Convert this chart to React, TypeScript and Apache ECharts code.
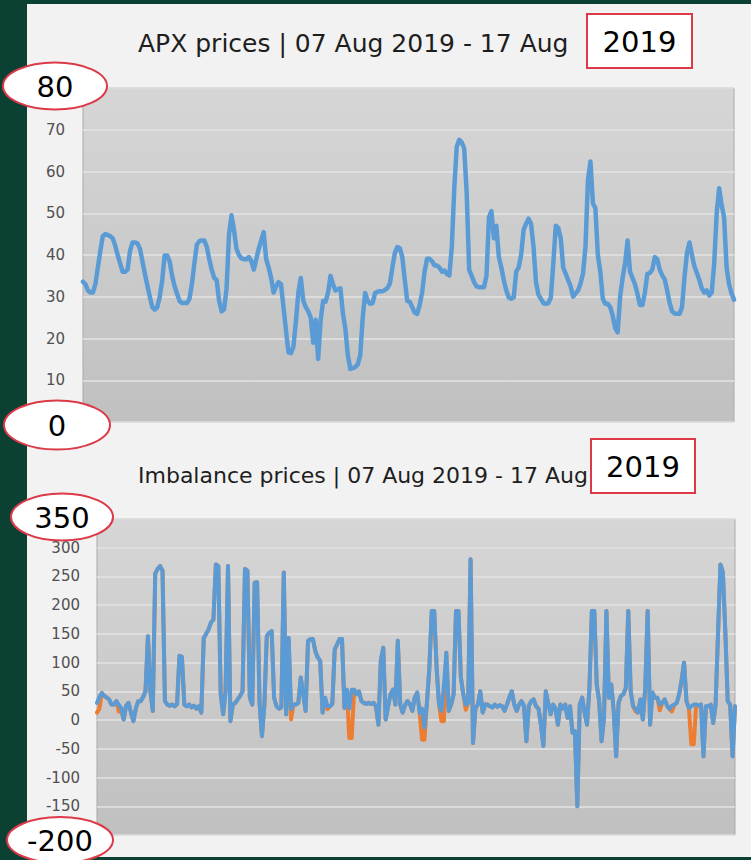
import React, { useEffect, useRef } from "react";
import * as echarts from "echarts";

// ---- Data (hourly, 07 Aug 2019 00:00 - 17 Aug 2019 23:00) ----
const days = ["07", "08", "09", "10", "11", "12", "13", "14", "15", "16", "17"];
const hours = Array.from({ length: 24 }, (_, h) => (h < 10 ? "0" + h : "" + h) + ":00");
const categories: string[] = [];
days.forEach((d) => hours.forEach((h) => categories.push(d + " Aug 2019 " + h)));

const apxPrices = [
  33.6, 33, 31.5, 31, 31, 33, 37, 41, 44.5, 45, 44.8, 44.5, 44, 42.3, 40, 38, 36, 36, 36.5, 41, 43, 43, 42.8, 41.5,
  38.5, 35.5, 32.7, 30, 27.5, 26.9, 27.5, 30, 34, 39.9, 39.9, 38.5, 35, 32.5, 30.7, 29, 28.5, 28.5, 28.5, 29.5, 33, 38, 42.5, 43.3,
  43.5, 43.5, 42, 39, 36.5, 34.5, 34, 29, 26.5, 27, 32, 45, 49.5, 46, 41.5, 40, 39.2, 39, 39, 39.5, 38.5, 36.5, 39, 41.5,
  43.5, 45.5, 39, 37, 34.5, 31, 32.5, 33.5, 33, 27.5, 22, 16.7, 16.5, 18, 24, 31, 34.5, 29, 27.5, 26.5, 25, 19, 24.5, 15.1,
  24.3, 29, 28.8, 31, 35, 33, 31.5, 31.8, 32, 26, 22.3, 16, 12.7, 12.9, 13.2, 13.8, 16, 25, 30.9, 29, 28.3, 28.5, 30.9, 31.2,
  31.3, 31.3, 31.6, 32.1, 33.2, 37, 40.5, 41.9, 41.6, 39.5, 34, 29, 28.8, 27.5, 26.2, 25.9, 28, 31, 36, 39.1, 39.1, 38.5, 37.5, 37.5,
  37, 36, 36.3, 35.5, 35.1, 42, 56, 66, 67.6, 67, 65.5, 55, 36.5, 35, 33.5, 32.5, 32.3, 32.3, 32.3, 35, 49, 50.5, 44, 47,
  39.5, 37, 34, 31.5, 29.8, 29.5, 29.8, 36, 37, 40, 46, 47.5, 48.7, 47.5, 42, 33.5, 30.5, 29.5, 28.5, 28.3, 28.5, 29.8, 38, 47,
  46.5, 44, 37, 35.5, 34, 32.5, 30, 30.8, 31.5, 33.2, 35.5, 42, 58, 62.4, 52.4, 51.2, 40, 35.9, 29.5, 28.3, 28.3, 27.5, 25.5, 22.5,
  21.5, 30, 34.5, 38, 43.5, 36, 34.5, 33, 30.7, 28, 28, 31, 35.5, 35.7, 36.5, 39.5, 39, 36.5, 35.1, 34.2, 31.5, 28.5, 26.5, 26,
  25.9, 25.9, 27.5, 34.7, 40.5, 43, 40, 37.3, 35.7, 34, 32, 31, 31.5, 30.3, 31, 38, 50, 56, 52, 49, 37.1, 33, 30.8, 29.3,
];

const imbalanceBlue = [
  30, 40, 47, 42, 39, 36, 27, 27, 33, 26, 21, 1, 25, 30, 13, -2, 20, 33, 33, 40, 50, 146, 50, 16,
  255, 263, 268, 260, 33, 27, 25, 27, 24, 28, 112, 110, 27, 24, 27, 22, 25, 20, 24, 13, 143, 150, 158, 170,
  175, 271, 268, 45, 10, 50, 268, -2, 27, 30, 36, 42, 50, 263, 260, 39, 27, 239, 240, 30, -28, 27, 146, 152,
  155, 39, 24, 20, 22, 257, 10, 143, 19, 27, 27, 30, 74, 45, 16, 138, 141, 141, 120, 109, 103, 13, 39, 24,
  24, 28, 123, 132, 141, 141, 21, 53, 20, 53, 53, 45, 50, 33, 30, 28, 30, 28, 30, 24, -8, 103, 126, 1,
  24, 45, 53, 27, 138, 27, 13, 26, 33, 28, 16, 39, 48, 13, 20, -13, 30, 90, 190, 190, 91, 27, 16, 60,
  117, 16, 27, 45, 190, 190, 74, 45, 27, 30, 280, -40, 21, 27, 50, 13, 27, 27, 24, 22, 27, 23, 26, 24,
  16, 27, 40, 50, 27, 16, 27, 33, 25, -37, 25, 33, 36, 24, 20, -8, -45, 50, 30, 10, 27, 20, -8, 27,
  20, 27, 4, 24, -22, -19, -150, 27, 39, 13, -8, 56, 190, 190, 62, 33, -37, 4, 190, 39, 62, 16, -63, 30,
  42, 45, 56, 190, 50, 24, 20, 13, 36, 1, 56, 190, -8, 48, 39, 39, 27, 30, 36, 25, 19, 25, 27, 30,
  45, 70, 100, 33, 21, 24, 27, 27, 25, 27, -63, 24, 24, 27, -5, 27, 150, 271, 257, 155, 33, 27, -63, 24,
];

const imbalanceOrange = [
  13, 20, 47, 42, 39, 36, 27, 27, 33, 15, 15, 1, 25, 30, 13, -2, 20, 33, 33, 40, 50, 146, 50, 16,
  255, 263, 268, 260, 33, 27, 25, 27, 24, 28, 112, 110, 27, 24, 27, 22, 25, 20, 24, 13, 143, 150, 158, 170,
  175, 271, 268, 45, 10, 50, 268, -2, 27, 30, 36, 42, 50, 263, 260, 39, 27, 239, 240, 30, -28, 27, 146, 152,
  155, 39, 24, 20, 22, 257, 10, 143, 1, 27, 27, 30, 74, 45, 16, 138, 141, 141, 120, 109, 103, 13, 39, 19,
  24, 28, 123, 132, 141, 141, 21, 53, -31, -31, 53, 45, 50, 33, 30, 28, 30, 28, 30, 24, -8, 103, 126, 1,
  24, 45, 53, 27, 138, 27, 13, 26, 33, 28, 16, 39, 48, 13, -34, -34, 30, 90, 190, 190, 91, 27, -2, -2,
  117, 16, 27, 45, 190, 190, 74, 45, 18, 30, 280, -40, 21, 27, 50, 13, 27, 27, 24, 22, 27, 23, 26, 24,
  16, 27, 40, 50, 27, 16, 27, 33, 25, -37, 25, 33, 36, 24, 20, -8, -45, 50, 30, 10, 27, 20, -8, 27,
  20, 27, 4, 24, -22, -19, -150, 27, 39, 13, -8, 56, 190, 190, 62, 33, -37, 4, 190, 39, 62, 16, -63, 30,
  42, 45, 56, 190, 50, 24, 15, 13, 36, 1, 56, 190, -8, 48, 39, 39, 17, 30, 36, 25, 19, 15, 27, 30,
  45, 70, 100, 33, 21, -42, -42, 27, 25, 27, -63, 24, 24, 27, -5, 27, 150, 271, 257, 155, 33, 27, -63, 24,
];

// axis ranges
const apxAxis = { min: 0, max: 80, interval: 10 };
const imbAxis = { min: -200, max: 350, interval: 50 };

const titleTop = "APX prices | 07 Aug 2019 - 17 Aug";
const titleBottom = "Imbalance prices | 07 Aug 2019 - 17 Aug";
const yearLabel = "2019";

const BLUE = "#5b9bd5";
const ORANGE = "#ed7d31";
const RED = "#dc3a48";
const DARK = "#0b4133";
const FONT = '"DejaVu Sans", sans-serif';

export default function App() {
  const ref = useRef<HTMLDivElement>(null);

  useEffect(() => {
    if (!ref.current) return;
    const chart = echarts.init(ref.current, undefined, { renderer: "svg" });

    const plotGrad = () =>
      new echarts.graphic.LinearGradient(0, 0, 0, 1, [
        { offset: 0, color: "#d6d6d6" },
        { offset: 1, color: "#c0c0c0" },
      ]);

    const yCommon = (gridIndex: number, r: { min: number; max: number; interval: number }, margin: number) => ({
      type: "value",
      gridIndex,
      min: r.min,
      max: r.max,
      interval: r.interval,
      axisLine: { show: false },
      axisTick: { show: false },
      axisLabel: {
        show: true,
        color: "#505050",
        fontSize: 15,
        fontFamily: FONT,
        margin,
        showMinLabel: false,
        showMaxLabel: false,
      },
      splitLine: { show: true, lineStyle: { color: "#e3e3e3", width: 1.5 } },
    });

    const xCommon = (gridIndex: number) => ({
      type: "category",
      gridIndex,
      data: categories,
      boundaryGap: false,
      axisLine: { show: false },
      axisTick: { show: false },
      axisLabel: { show: false },
      splitLine: { show: false },
    });

    const ellipse = (cx: number, cy: number, rx: number, ry: number, text: string) => [
      {
        type: "ellipse",
        z: 100,
        shape: { cx, cy, rx, ry },
        style: { fill: "#ffffff", stroke: RED, lineWidth: 2 },
      },
      {
        type: "text",
        z: 101,
        x: cx,
        y: cy + 1,
        style: {
          text,
          font: `29px ${FONT}`,
          fill: "#000000",
          textAlign: "center",
          textVerticalAlign: "middle",
          align: "center",
          verticalAlign: "middle",
        },
      },
    ];

    const box = (x: number, y: number, w: number, h: number) => [
      {
        type: "rect",
        z: 100,
        shape: { x, y, width: w, height: h },
        style: { fill: "#ffffff", stroke: RED, lineWidth: 2 },
      },
      {
        type: "text",
        z: 101,
        x: x + w / 2,
        y: y + h / 2 + 1,
        style: {
          text: yearLabel,
          font: `29px ${FONT}`,
          fill: "#000000",
          textAlign: "center",
          textVerticalAlign: "middle",
          align: "center",
          verticalAlign: "middle",
        },
      },
    ];

    const title = (x: number, y: number, text: string, size: number) => ({
      type: "text",
      z: 50,
      x,
      y,
      style: {
        text,
        font: `${size}px ${FONT}`,
        fill: "#1e1e1e",
        textAlign: "left",
        textVerticalAlign: "middle",
        align: "left",
        verticalAlign: "middle",
      },
    });

    chart.setOption({
      animation: false,
      backgroundColor: "#f2f2f2",
      grid: [
        {
          left: 83,
          top: 88,
          width: 651,
          height: 334,
          show: true,
          backgroundColor: plotGrad(),
          borderColor: "#a9a9a9",
          borderWidth: 1,
        },
        {
          left: 97,
          top: 519,
          width: 638,
          height: 316,
          show: true,
          backgroundColor: plotGrad(),
          borderColor: "#a9a9a9",
          borderWidth: 1,
        },
      ],
      xAxis: [xCommon(0), xCommon(1)],
      yAxis: [yCommon(0, apxAxis, 18), yCommon(1, imbAxis, 17)],
      series: [
        {
          name: "APX",
          type: "line",
          xAxisIndex: 0,
          yAxisIndex: 0,
          data: apxPrices,
          showSymbol: false,
          symbol: "none",
          lineStyle: { color: BLUE, width: 4.5, join: "round", cap: "round" },
          z: 3,
        },
        {
          name: "Imbalance (feed)",
          type: "line",
          xAxisIndex: 1,
          yAxisIndex: 1,
          data: imbalanceOrange,
          showSymbol: false,
          symbol: "none",
          lineStyle: { color: ORANGE, width: 4, join: "round", cap: "round" },
          z: 2,
        },
        {
          name: "Imbalance (take)",
          type: "line",
          xAxisIndex: 1,
          yAxisIndex: 1,
          data: imbalanceBlue,
          showSymbol: false,
          symbol: "none",
          lineStyle: { color: BLUE, width: 4, join: "round", cap: "round" },
          z: 3,
        },
      ],
      graphic: [
        { type: "rect", z: 10, shape: { x: 0, y: 0, width: 27, height: 860 }, style: { fill: DARK } },
        { type: "rect", z: 10, shape: { x: 0, y: 0, width: 751, height: 4 }, style: { fill: DARK } },
        { type: "rect", z: 10, shape: { x: 0, y: 857, width: 751, height: 3 }, style: { fill: DARK } },
        title(138, 43, titleTop, 25),
        title(138, 475, titleBottom, 22),
        ...box(587, 14, 105, 54),
        ...box(591, 439, 104, 54),
        ...ellipse(55, 86, 52, 23.5, "80"),
        ...ellipse(57, 425, 53, 24.5, "0"),
        ...ellipse(62, 517, 51, 23.5, "350"),
        ...ellipse(60, 840, 53, 23, "-200"),
      ],
    });

    return () => chart.dispose();
  }, []);

  return (
    <div
      ref={ref}
      style={{ position: "fixed", left: 0, top: 0, width: 751, height: 860 }}
    />
  );
}
